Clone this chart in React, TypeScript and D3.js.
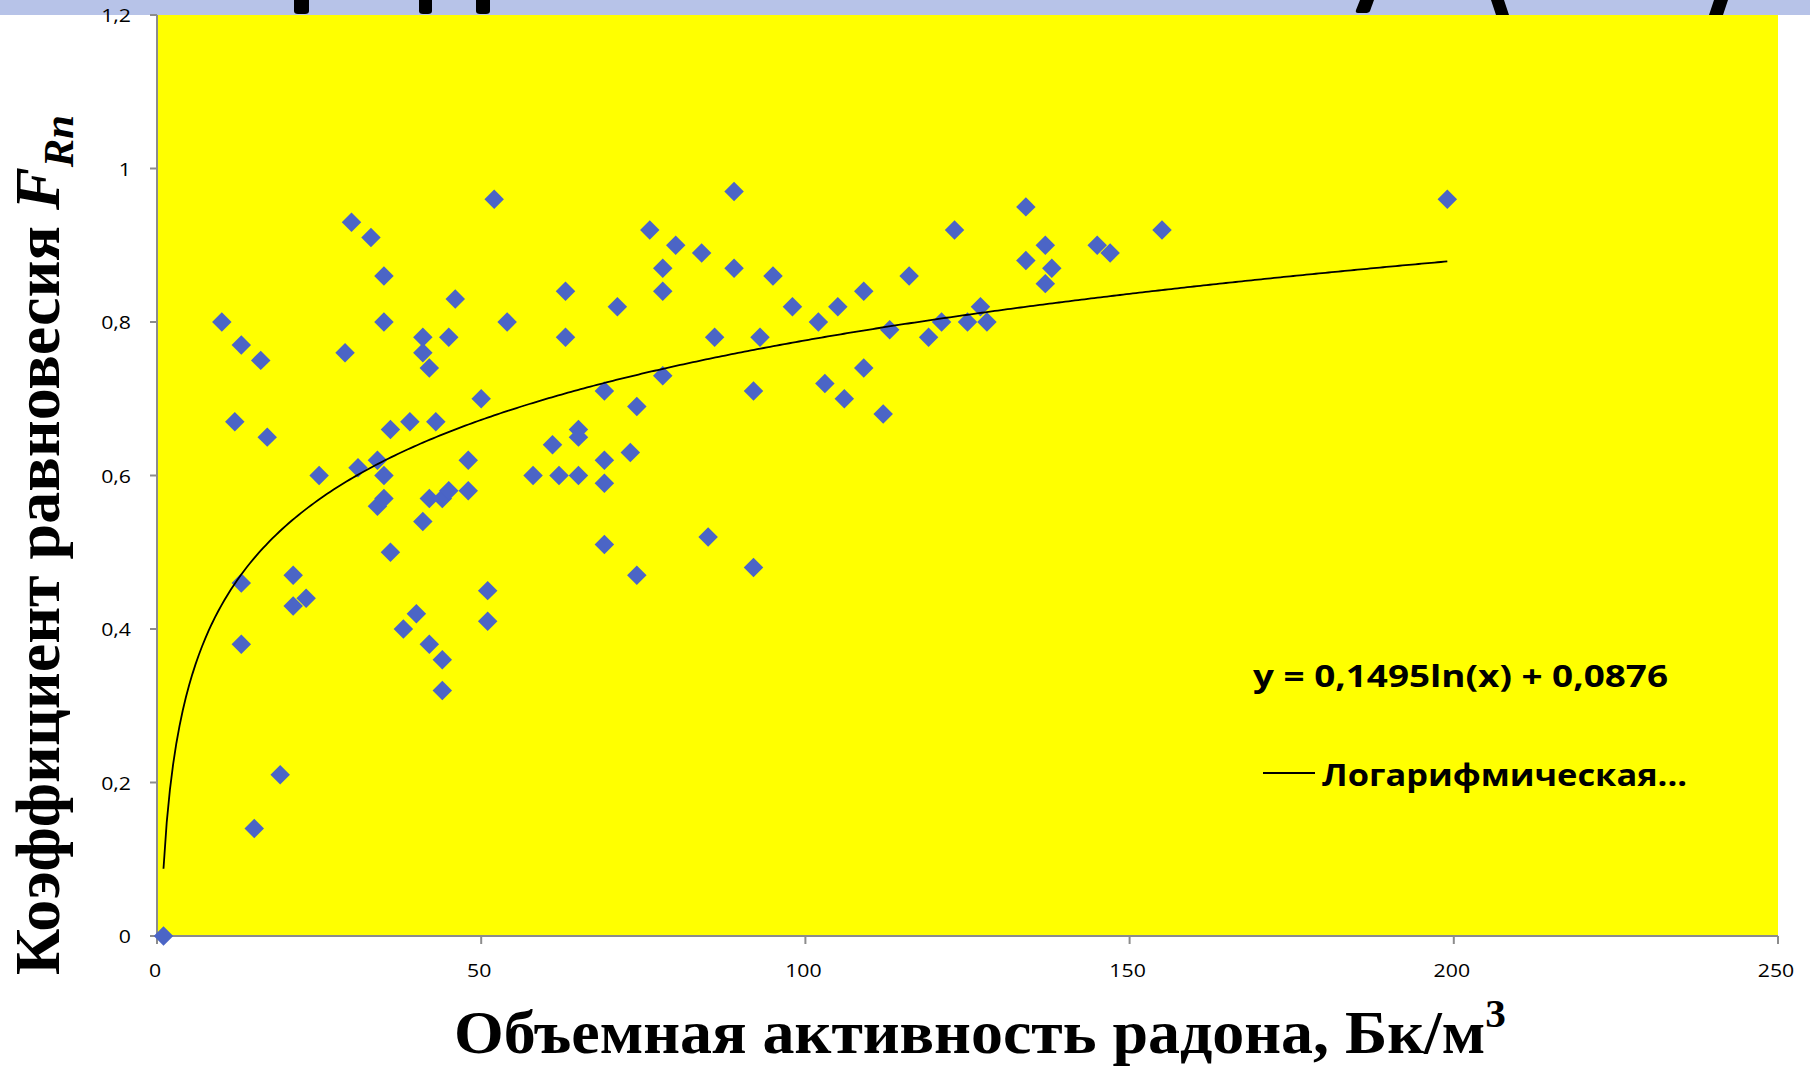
import React from "react";
import * as d3 from "d3";

// Data
const xValues: number[] = [
  1, 10, 12, 13, 13, 13, 15, 16, 17, 19, 21, 21, 23, 25, 29, 30, 31, 33, 34, 34,
  35, 35, 35, 35, 36, 36, 38, 39, 40, 41, 41, 41, 42, 42, 42, 43, 44, 44, 44, 45,
  45, 46, 48, 48, 50, 51, 51, 52, 54, 58, 61, 62, 63, 63, 65, 65, 65, 69, 69, 69,
  69, 71, 73, 74, 74, 76, 78, 78, 78, 80, 84, 85, 86, 89, 89, 92, 92, 93, 95, 98,
  102, 103, 105, 106, 109, 109, 112, 113, 116, 119, 121, 123, 125, 127, 128, 134, 134, 137, 137, 138,
  145, 147, 155, 199,
];
const yValues: number[] = [
  0, 0.8, 0.67, 0.77, 0.46, 0.38, 0.14, 0.75, 0.65, 0.21, 0.47, 0.43, 0.44, 0.6, 0.76, 0.93, 0.61, 0.91, 0.62, 0.56,
  0.86, 0.8, 0.6, 0.57, 0.66, 0.5, 0.4, 0.67, 0.42, 0.78, 0.76, 0.54, 0.74, 0.57, 0.38, 0.67, 0.57, 0.36, 0.32, 0.58,
  0.78, 0.83, 0.62, 0.58, 0.7, 0.45, 0.41, 0.96, 0.8, 0.6, 0.64, 0.6, 0.84, 0.78, 0.66, 0.65, 0.6, 0.71, 0.62, 0.59,
  0.51, 0.82, 0.63, 0.69, 0.47, 0.92, 0.87, 0.84, 0.73, 0.9, 0.89, 0.52, 0.78, 0.97, 0.87, 0.71, 0.48, 0.78, 0.86, 0.82,
  0.8, 0.72, 0.82, 0.7, 0.84, 0.74, 0.68, 0.79, 0.86, 0.78, 0.8, 0.92, 0.8, 0.82, 0.8, 0.95, 0.88, 0.9, 0.85, 0.87,
  0.9, 0.89, 0.92, 0.96,
];
const xTicks: number[] = [0, 50, 100, 150, 200, 250];
const yTicks: number[] = [0, 0.2, 0.4, 0.6, 0.8, 1, 1.2];
const trendA = 0.1495;
const trendB = 0.0876;
const equationLabel = "y = 0,1495ln(x) + 0,0876";
const legendLabel = "Логарифмическая...";
const xTitle = "Объемная активность радона, Бк/м";
const yTitle = "Коэффициент равновесия ";

const W = 1810;
const H = 1068;
const left = 157;
const right = 1778;
const top = 15;
const bottom = 936;

const AXIS = "#8c8c8c";
const MARK = "#4b65c6";

const fmt = (v: number) => String(v).replace(".", ",");

export default function App() {
  const x = d3.scaleLinear().domain([0, 250]).range([left, right]);
  const y = d3.scaleLinear().domain([0, 1.2]).range([bottom, top]);
  const pts = xValues.map((v, i) => ({ x: v, y: yValues[i] }));
  const diamond = d3.symbol(d3.symbolSquare, 190)()!;
  const xMin = d3.min(xValues.filter((v) => v > 0))!;
  const xMax = d3.max(xValues)!;
  const trendXs = d3.range(0, 401).map((i) => xMin + ((xMax - xMin) * i) / 400);
  const trendPath = d3
    .line<number>()
    .x((d) => x(d))
    .y((d) => y(trendA * Math.log(d) + trendB))(trendXs)!;

  return (
    <svg
      width={W}
      height={H}
      viewBox={`0 0 ${W} ${H}`}
      style={{ position: "absolute", left: 0, top: 0, background: "#ffffff" }}
    >
      {/* slide title band (cut off) */}
      <rect x={0} y={0} width={W} height={15} fill="#b7c3e8" />
      <g fill="#000">
        <path d="M294,0 H309 V11 Q309,14 305,14 H298 Q294,14 294,11 Z" />
        <path d="M419,0 H432 V11 Q432,14 428,14 H423 Q419,14 419,11 Z" />
        <path d="M476,0 H490 V11 Q490,14 486,14 H480 Q476,14 476,11 Z" />
        <path d="M1360,0 H1374 L1370,11 Q1369,13 1365,13 H1358 Q1355,13 1356,10 Z" />
        <path d="M1491,0 H1504 L1509,15 H1496 Z" />
        <path d="M1714,0 H1728 L1723,15 H1709 Z" />
      </g>

      {/* plot area */}
      <rect x={left} y={top} width={right - left} height={bottom - top} fill="#ffff00" />

      {/* axes */}
      <line x1={left} x2={left} y1={top} y2={bottom} stroke={AXIS} strokeWidth={2} />
      <line x1={left - 7} x2={right} y1={bottom} y2={bottom} stroke={AXIS} strokeWidth={2} />
      {yTicks.map((t) => (
        <g key={"y" + t}>
          <line x1={left - 7} x2={left} y1={y(t)} y2={y(t)} stroke={AXIS} strokeWidth={2} />
          <text
            x={0}
            y={0}
            transform={`translate(${left - 26},${y(t) + 7}) scale(1.12,1)`}
            textAnchor="end"
            fontFamily="'Open Sans', sans-serif"
            fontSize={19}
            fill="#000"
          >
            {fmt(t)}
          </text>
        </g>
      ))}
      {xTicks.map((t) => (
        <g key={"x" + t}>
          <line x1={x(t)} x2={x(t)} y1={bottom} y2={bottom + 8} stroke={AXIS} strokeWidth={2} />
          <text
            x={0}
            y={0}
            transform={`translate(${x(t) - 2},${977}) scale(1.12,1)`}
            textAnchor="middle"
            fontFamily="'Open Sans', sans-serif"
            fontSize={19}
            fill="#000"
          >
            {fmt(t)}
          </text>
        </g>
      ))}

      {/* points */}
      <g fill={MARK}>
        {pts.map((p, i) => (
          <path key={i} d={diamond} transform={`translate(${x(p.x)},${y(p.y)}) rotate(45)`} />
        ))}
      </g>

      {/* trend line */}
      <path d={trendPath} fill="none" stroke="#000" strokeWidth={1.8} />

      {/* equation + legend */}
      <text
        x={1253}
        y={687}
        fontFamily="'Open Sans', sans-serif"
        fontWeight="bold"
        fontSize={30}
        textLength={415}
        lengthAdjust="spacingAndGlyphs"
        fill="#000"
      >
        {equationLabel}
      </text>
      <line x1={1263} x2={1315} y1={773} y2={773} stroke="#000" strokeWidth={1.8} />
      <text
        x={1322}
        y={786}
        fontFamily="'Open Sans', sans-serif"
        fontWeight="bold"
        fontSize={30}
        textLength={365}
        lengthAdjust="spacingAndGlyphs"
        fill="#000"
      >
        {legendLabel}
      </text>

      {/* axis titles */}
      <text
        x={980}
        y={1053}
        textAnchor="middle"
        fontFamily="'Liberation Serif', 'Times New Roman', serif"
        fontWeight="bold"
        fontSize={62}
        textLength={1052}
        lengthAdjust="spacingAndGlyphs"
        fill="#000"
      >
        {xTitle}
        <tspan fontSize={40} dy={-26}>3</tspan>
      </text>
      <text
        transform={`translate(59,545) rotate(-90)`}
        textAnchor="middle"
        fontFamily="'Liberation Serif', 'Times New Roman', serif"
        fontWeight="bold"
        fontSize={63}
        textLength={860}
        lengthAdjust="spacingAndGlyphs"
        fill="#000"
      >
        {yTitle}
        <tspan fontStyle="italic">F</tspan>
        <tspan fontStyle="italic" fontSize={42} dy={14}>Rn</tspan>
      </text>
    </svg>
  );
}
